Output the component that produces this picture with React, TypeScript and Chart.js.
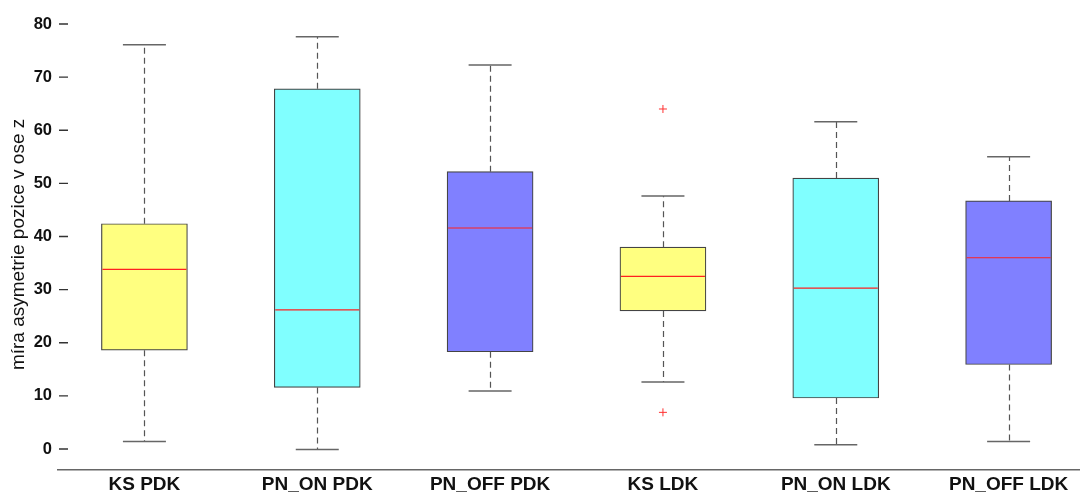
import React, { useEffect, useRef } from "react";
import { Chart, registerables } from "chart.js";

Chart.register(...registerables);

const categories = ["KS PDK", "PN_ON PDK", "PN_OFF PDK", "KS LDK", "PN_ON LDK", "PN_OFF LDK"];
const whiskerLow = [1.4, -0.1, 10.9, 12.6, 0.8, 1.4];
const q1 = [18.6, 11.6, 18.3, 26.0, 9.6, 15.9];
const median = [33.8, 26.2, 41.6, 32.5, 30.3, 36.0];
const q3 = [42.4, 67.8, 52.2, 38.0, 51.0, 46.7];
const whiskerHigh = [76.1, 77.6, 72.3, 47.6, 61.6, 55.0];
const outlierCategory = [3, 3];
const outlierValues = [64.0, 6.9];
const boxColors = ["#ffff80", "#80ffff", "#8080ff", "#ffff80", "#80ffff", "#8080ff"];
const yTicks = [0, 10, 20, 30, 40, 50, 60, 70, 80];

const BOX_W = 86;

const boxPlugin = {
  id: "boxExtras",
  afterDatasetsDraw(chart: any) {
    const ctx = chart.ctx;
    const xs = chart.scales.x;
    const ys = chart.scales.y;
    ctx.save();
    categories.forEach((_, i) => {
      const cx = xs.getPixelForValue(i);
      const px = Math.round(cx) + 0.5;
      ctx.strokeStyle = "#555555";
      ctx.lineWidth = 1.2;
      ctx.setLineDash([6, 4]);
      ctx.beginPath();
      ctx.moveTo(px, ys.getPixelForValue(q3[i]));
      ctx.lineTo(px, ys.getPixelForValue(whiskerHigh[i]));
      ctx.moveTo(px, ys.getPixelForValue(q1[i]));
      ctx.lineTo(px, ys.getPixelForValue(whiskerLow[i]));
      ctx.stroke();
      ctx.setLineDash([]);
      ctx.strokeStyle = "#666666";
      ctx.lineWidth = 1.5;
      ctx.beginPath();
      const yh = ys.getPixelForValue(whiskerHigh[i]);
      const yl = ys.getPixelForValue(whiskerLow[i]);
      ctx.moveTo(cx - BOX_W / 4, yh);
      ctx.lineTo(cx + BOX_W / 4, yh);
      ctx.moveTo(cx - BOX_W / 4, yl);
      ctx.lineTo(cx + BOX_W / 4, yl);
      ctx.stroke();
      ctx.strokeStyle = "#ff2020";
      ctx.lineWidth = 1.2;
      ctx.beginPath();
      const ym = ys.getPixelForValue(median[i]);
      ctx.moveTo(cx - BOX_W / 2 + 1, ym);
      ctx.lineTo(cx + BOX_W / 2 - 1, ym);
      ctx.stroke();
    });
    ctx.strokeStyle = "#333333";
    ctx.lineWidth = 1.4;
    ctx.beginPath();
    yTicks.forEach((v) => {
      const y = ys.getPixelForValue(v);
      ctx.moveTo(chart.chartArea.left + 1, y);
      ctx.lineTo(chart.chartArea.left + 10, y);
    });
    ctx.stroke();
    ctx.restore();
  },
};

export default function App() {
  const ref = useRef<HTMLCanvasElement | null>(null);
  useEffect(() => {
    if (!ref.current) return;
    const chart = new Chart(ref.current, {
      type: "bar",
      data: {
        datasets: [
          {
            type: "bar",
            data: categories.map((_, i) => ({ x: i, y: [q1[i], q3[i]] })) as any,
            backgroundColor: boxColors,
            borderColor: "#444444",
            borderWidth: 1.2,
            borderSkipped: false,
            barThickness: BOX_W,
          } as any,
          {
            type: "scatter",
            data: outlierCategory.map((c, i) => ({ x: c, y: outlierValues[i] })),
            pointStyle: "cross",
            pointRadius: 4,
            borderColor: "#ff3030",
            borderWidth: 1,
            backgroundColor: "#ff3030",
          } as any,
        ],
      },
      options: {
        responsive: true,
        maintainAspectRatio: false,
        animation: false,
        layout: { autoPadding: false, padding: { top: 3, right: 0, left: 0, bottom: 0 } },
        plugins: { legend: { display: false }, tooltip: { enabled: false } },
        scales: {
          x: {
            type: "linear",
            offset: false,
            min: -0.5,
            max: 5.413,
            afterBuildTicks: (s: any) => {
              s.ticks = categories.map((_, i) => ({ value: i }));
            },
            afterFit: (s: any) => {
              s.height = 23;
              s.paddingRight = 0;
              s.paddingLeft = 0;
            },
            grid: { display: false, drawTicks: false, offset: false },
            border: { display: true, color: "#666666", width: 1.5 },
            ticks: {
              autoSkip: false,
              maxRotation: 0,
              padding: 3,
              color: "#111111",
              font: { family: "Liberation Sans, Arial, sans-serif", size: 19, weight: "bold" },
              callback: (v: any) => categories[v] ?? "",
            },
          },
          y: {
            type: "linear",
            min: -3.95,
            max: 83.95,
            afterBuildTicks: (s: any) => {
              s.ticks = yTicks.map((v) => ({ value: v }));
            },
            afterFit: (s: any) => {
              s.width = 58;
              s.paddingTop = 0;
              s.paddingBottom = 0;
            },
            grid: { display: false, drawTicks: false },
            border: { display: false },
            ticks: {
              padding: 6,
              color: "#111111",
              font: { family: "Liberation Sans, Arial, sans-serif", size: 16.5, weight: "bold" },
            },
            title: {
              display: true,
              text: "míra asymetrie pozice v ose z   ",
              color: "#111111",
              padding: { top: 7, bottom: 0 },
              font: { family: "Liberation Sans, Arial, sans-serif", size: 19, weight: "normal" },
            },
          },
        },
      } as any,
      plugins: [boxPlugin],
    });
    return () => chart.destroy();
  }, []);
  return (
    <div style={{ position: "fixed", left: 0, top: 0, width: 1080, height: 493, background: "#ffffff", overflow: "hidden" }}>
      <canvas ref={ref} />
    </div>
  );
}
